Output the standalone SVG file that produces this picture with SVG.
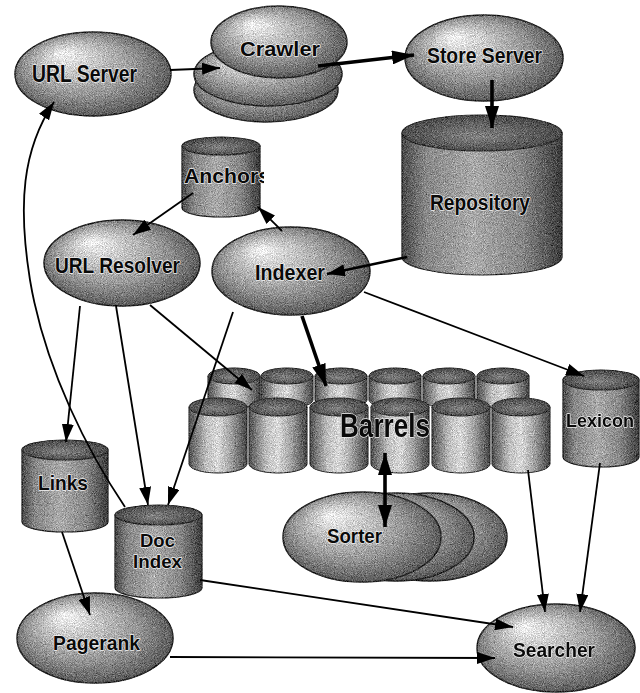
<svg xmlns="http://www.w3.org/2000/svg" width="640" height="693" viewBox="0 0 640 693">
  <style>
    .ell { fill: url(#ellGrad); stroke: #262626; stroke-width: 1.5; }
    .cyl { fill: url(#cylBody); stroke: #2a2a2a; stroke-width: 1.2; }
    .cap { fill: url(#capGrad); stroke: #2a2a2a; stroke-width: 1.2; }
    .bar { fill: url(#barBody); stroke: #2a2a2a; stroke-width: 1; }
    .bcap { fill: url(#capGrad); stroke: #2a2a2a; stroke-width: 1; }
    .lbl { font-family: "Liberation Sans", Arial, sans-serif; font-weight: bold; fill: #0a0a0a;
           stroke: #f0f0f0; stroke-width: 1.4; paint-order: stroke; stroke-linejoin: round; }
    .edge { fill: none; stroke: #000; stroke-width: 1.8; }
    .thick { fill: none; stroke: #000; stroke-width: 3.6; }
  </style>
  <defs>
    <!-- speckled shading for the solid shapes -->
    <filter id="grain" x="-5%" y="-5%" width="110%" height="110%" color-interpolation-filters="sRGB">
      <feTurbulence type="fractalNoise" baseFrequency="1.1" numOctaves="2" seed="7" result="noise"/>
      <feColorMatrix in="noise" type="matrix"
        values="0.33 0.33 0.33 0 0  0.33 0.33 0.33 0 0  0.33 0.33 0.33 0 0  0 0 0 0 1" result="gray"/>
      <feComposite in="SourceGraphic" in2="gray" operator="arithmetic" k1="0" k2="1" k3="1.1" k4="-0.55" result="mix"/>
      <feComposite in="mix" in2="SourceAlpha" operator="in"/>
    </filter>
    <radialGradient id="ellGrad" cx="0.5" cy="0.5" r="0.6" fx="0.3" fy="0.25">
      <stop offset="0" stop-color="#f6f6f6"/>
      <stop offset="0.25" stop-color="#cccccc"/>
      <stop offset="0.6" stop-color="#949494"/>
      <stop offset="0.85" stop-color="#626262"/>
      <stop offset="1" stop-color="#363636"/>
    </radialGradient>
    <linearGradient id="cylBody" x1="0" y1="0" x2="1" y2="0">
      <stop offset="0" stop-color="#4a4a4a"/>
      <stop offset="0.15" stop-color="#888"/>
      <stop offset="0.45" stop-color="#ababab"/>
      <stop offset="0.75" stop-color="#888"/>
      <stop offset="1" stop-color="#3c3c3c"/>
    </linearGradient>
    <linearGradient id="barBody" x1="0" y1="0" x2="1" y2="0">
      <stop offset="0" stop-color="#505050"/>
      <stop offset="0.3" stop-color="#c0c0c0"/>
      <stop offset="0.5" stop-color="#dadada"/>
      <stop offset="0.72" stop-color="#a4a4a4"/>
      <stop offset="1" stop-color="#444"/>
    </linearGradient>
    <radialGradient id="capGrad" cx="0.5" cy="0.5" r="0.6" fx="0.45" fy="0.6">
      <stop offset="0" stop-color="#858585"/>
      <stop offset="1" stop-color="#404040"/>
    </radialGradient>
    <marker id="arr" viewBox="0 0 18 12" refX="18" refY="6" markerWidth="18" markerHeight="12"
            markerUnits="userSpaceOnUse" orient="auto-start-reverse">
      <path d="M0,0 L18,6 L0,12 Z" fill="#000"/>
    </marker>
    <marker id="arrBig" viewBox="0 0 22 14" refX="22" refY="7" markerWidth="22" markerHeight="14"
            markerUnits="userSpaceOnUse" orient="auto-start-reverse">
      <path d="M0,0 L22,7 L0,14 Z" fill="#000"/>
    </marker>
    <g id="barrelBack">
      <path class="bar" d="M0,8 V32 A26,8 0 0 0 52,32 V8 Z"/>
      <ellipse class="bcap" cx="26" cy="8" rx="26" ry="8"/>
    </g>
    <g id="barrelFront">
      <path class="bar" d="M0,9 V66 A29,9 0 0 0 58,66 V9 Z"/>
      <ellipse class="bcap" cx="29" cy="9" rx="29" ry="9"/>
    </g>
    <clipPath id="anchorClip">
      <rect x="170" y="130" width="94" height="100"/>
    </clipPath>
  </defs>

  <rect width="640" height="693" fill="#fff"/>

  <g id="url-server">
    <ellipse class="ell" cx="93" cy="74" rx="78" ry="42" filter="url(#grain)"/>
    <text class="lbl" x="32" y="82" font-size="24" textLength="105" lengthAdjust="spacingAndGlyphs">URL Server</text>
  </g>

  <g id="crawler">
    <g filter="url(#grain)">
      <ellipse class="ell" cx="266" cy="90" rx="72" ry="32"/>
      <ellipse class="ell" cx="268" cy="74" rx="74" ry="32"/>
      <ellipse class="ell" cx="279" cy="42" rx="68" ry="36"/>
    </g>
    <text class="lbl" x="240" y="56" font-size="21" textLength="80" lengthAdjust="spacingAndGlyphs">Crawler</text>
  </g>

  <g id="store-server">
    <ellipse class="ell" cx="484" cy="58" rx="79" ry="43" filter="url(#grain)"/>
    <text class="lbl" x="427" y="63" font-size="22" textLength="115" lengthAdjust="spacingAndGlyphs">Store Server</text>
  </g>

  <g id="repository">
    <g filter="url(#grain)">
      <path class="cyl" d="M402,133 V257 A80,18 0 0 0 562,257 V133 Z"/>
      <ellipse class="cap" cx="482" cy="133" rx="80" ry="18"/>
    </g>
    <text class="lbl" x="430" y="210" font-size="22" textLength="100" lengthAdjust="spacingAndGlyphs">Repository</text>
  </g>

  <g id="anchors">
    <g filter="url(#grain)">
      <path class="cyl" d="M182,146 V208 A39,9 0 0 0 260,208 V146 Z"/>
      <ellipse class="cap" cx="221" cy="146" rx="39" ry="9"/>
    </g>
    <text class="lbl" x="184" y="183" font-size="21" textLength="86" lengthAdjust="spacingAndGlyphs" clip-path="url(#anchorClip)">Anchors</text>
  </g>

  <g id="url-resolver">
    <ellipse class="ell" cx="122" cy="263" rx="78" ry="43" filter="url(#grain)"/>
    <text class="lbl" x="55" y="273" font-size="22" textLength="125" lengthAdjust="spacingAndGlyphs">URL Resolver</text>
  </g>

  <g id="indexer">
    <ellipse class="ell" cx="291" cy="271" rx="79" ry="44" filter="url(#grain)"/>
    <text class="lbl" x="255" y="280" font-size="22" textLength="70" lengthAdjust="spacingAndGlyphs">Indexer</text>
  </g>

  <g id="barrels">
    <g filter="url(#grain)">
      <use href="#barrelBack" x="208" y="368"/>
      <use href="#barrelBack" x="261" y="368"/>
      <use href="#barrelBack" x="315" y="368"/>
      <use href="#barrelBack" x="369" y="368"/>
      <use href="#barrelBack" x="423" y="368"/>
      <use href="#barrelBack" x="477" y="368"/>
      <use href="#barrelFront" x="189" y="398"/>
      <use href="#barrelFront" x="249" y="398"/>
      <use href="#barrelFront" x="310" y="398"/>
      <use href="#barrelFront" x="371" y="398"/>
      <use href="#barrelFront" x="432" y="398"/>
      <use href="#barrelFront" x="492" y="398"/>
    </g>
    <text class="lbl" x="340" y="437" font-size="34" textLength="90" lengthAdjust="spacingAndGlyphs">Barrels</text>
  </g>

  <g id="lexicon">
    <g filter="url(#grain)">
      <path class="cyl" d="M563,380 V457 A38,10 0 0 0 639,457 V380 Z"/>
      <ellipse class="cap" cx="601" cy="380" rx="38" ry="10"/>
    </g>
    <text class="lbl" x="566" y="427" font-size="18.5" textLength="68" lengthAdjust="spacingAndGlyphs">Lexicon</text>
  </g>

  <g id="links">
    <g filter="url(#grain)">
      <path class="cyl" d="M22,450 V522 A43,10 0 0 0 108,522 V450 Z"/>
      <ellipse class="cap" cx="65" cy="450" rx="43" ry="10"/>
    </g>
    <text class="lbl" x="38" y="490" font-size="21" textLength="50" lengthAdjust="spacingAndGlyphs">Links</text>
  </g>

  <g id="doc-index">
    <g filter="url(#grain)">
      <path class="cyl" d="M115,515 V588 A43.5,10 0 0 0 202,588 V515 Z"/>
      <ellipse class="cap" cx="158.5" cy="515" rx="43.5" ry="10"/>
    </g>
    <text class="lbl" x="140" y="547" font-size="19" textLength="35" lengthAdjust="spacingAndGlyphs">Doc</text>
    <text class="lbl" x="133" y="568" font-size="19" textLength="49" lengthAdjust="spacingAndGlyphs">Index</text>
  </g>

  <g id="sorter">
    <g filter="url(#grain)">
      <ellipse class="ell" cx="430" cy="537" rx="77" ry="44"/>
      <ellipse class="ell" cx="396" cy="537" rx="78" ry="44"/>
      <ellipse class="ell" cx="362" cy="537" rx="79" ry="45"/>
    </g>
    <text class="lbl" x="327" y="543" font-size="21" textLength="55" lengthAdjust="spacingAndGlyphs">Sorter</text>
  </g>

  <g id="pagerank">
    <ellipse class="ell" cx="95" cy="638" rx="78" ry="45" filter="url(#grain)"/>
    <text class="lbl" x="53" y="650" font-size="21" textLength="87" lengthAdjust="spacingAndGlyphs">Pagerank</text>
  </g>

  <g id="searcher">
    <ellipse class="ell" cx="556" cy="648" rx="79" ry="44" filter="url(#grain)"/>
    <text class="lbl" x="513" y="657" font-size="21" textLength="82" lengthAdjust="spacingAndGlyphs">Searcher</text>
  </g>

  <g id="connectors">
    <path class="edge" d="M170,70 L220,68" marker-end="url(#arr)"/>
    <path class="thick" d="M318,66 L414,55" marker-end="url(#arrBig)"/>
    <path class="thick" d="M492,80 L492,128" marker-end="url(#arrBig)"/>
    <path class="edge" style="stroke-width:2.4" d="M407,257 L327,274" marker-end="url(#arr)"/>
    <path class="edge" d="M282,231 L258,207" marker-end="url(#arr)"/>
    <path class="edge" d="M193,193 L133,235" marker-end="url(#arr)"/>
    <path class="edge" d="M80,306 L66,442" marker-end="url(#arr)"/>
    <path class="edge" d="M116,306 L148,505" marker-end="url(#arr)"/>
    <path class="edge" d="M150,305 L252,390" marker-end="url(#arr)"/>
    <path class="edge" d="M233,312 L168,505" marker-end="url(#arr)"/>
    <path class="thick" d="M302,316 L326,386" marker-end="url(#arrBig)"/>
    <path class="edge" d="M364,292 L584,376" marker-end="url(#arr)"/>
    <path class="thick" d="M385,453 L385,527" marker-start="url(#arrBig)" marker-end="url(#arrBig)"/>
    <path class="edge" d="M528,470 L545,612" marker-end="url(#arr)"/>
    <path class="edge" d="M600,463 L580,612" marker-end="url(#arr)"/>
    <path class="edge" d="M200,580 L513,627" marker-end="url(#arr)"/>
    <path class="edge" d="M170,657 L495,658" marker-end="url(#arr)"/>
    <path class="edge" d="M62,532 L90,615" marker-end="url(#arr)"/>
    <path class="edge" d="M125,507 C90,455 45,370 30,280 C18,205 22,150 54,102" marker-end="url(#arr)"/>
  </g>
</svg>
